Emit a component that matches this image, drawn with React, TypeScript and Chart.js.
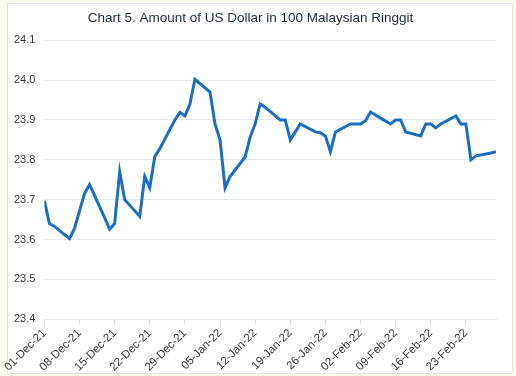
import React, { useEffect, useRef } from 'react';
import { Chart, registerables } from 'chart.js';

Chart.register(...registerables);

const START_DATE = '2021-12-01';
const END_DATE = '2022-03-01';

const tradingDates = [
  '2021-12-01', '2021-12-02', '2021-12-03', '2021-12-06', '2021-12-07', '2021-12-08', '2021-12-09', '2021-12-10',
  '2021-12-13', '2021-12-14', '2021-12-15', '2021-12-16', '2021-12-17', '2021-12-20', '2021-12-21', '2021-12-22',
  '2021-12-23', '2021-12-24', '2021-12-27', '2021-12-28', '2021-12-29', '2021-12-30', '2021-12-31',
  '2022-01-03', '2022-01-04', '2022-01-05', '2022-01-06', '2022-01-07', '2022-01-10', '2022-01-11', '2022-01-12',
  '2022-01-13', '2022-01-14', '2022-01-17', '2022-01-18', '2022-01-19', '2022-01-20', '2022-01-21', '2022-01-24',
  '2022-01-25', '2022-01-26', '2022-01-27', '2022-01-28', '2022-01-31',
  '2022-02-01', '2022-02-02', '2022-02-03', '2022-02-04', '2022-02-07', '2022-02-08', '2022-02-09', '2022-02-10',
  '2022-02-11', '2022-02-14', '2022-02-15', '2022-02-16', '2022-02-17', '2022-02-18', '2022-02-21', '2022-02-22',
  '2022-02-23', '2022-02-24', '2022-02-25', '2022-02-28', '2022-03-01',
];

const usdPer100Myr = [
  23.697, 23.640, 23.633, 23.602, 23.628, 23.672, 23.715, 23.738,
  23.655, 23.626, 23.640, 23.770, 23.700, 23.658, 23.758, 23.730,
  23.808, 23.828, 23.900, 23.919, 23.910, 23.940, 24.002,
  23.970, 23.890, 23.850, 23.730, 23.758, 23.807, 23.857, 23.890,
  23.940, 23.932, 23.900, 23.900, 23.850, 23.870, 23.890, 23.870,
  23.868, 23.860, 23.820, 23.870, 23.890,
  23.890, 23.890, 23.898, 23.920, 23.897, 23.890, 23.900, 23.900,
  23.870, 23.860, 23.890, 23.890, 23.880, 23.890, 23.910, 23.890,
  23.890, 23.800, 23.810, 23.817, 23.820,
];

const Y_MIN = 23.4;
const Y_MAX = 24.1;
const Y_STEP = 0.1;
const X_TICK_EVERY_DAYS = 7;

const TITLE = 'Chart 5. Amount of US Dollar in 100 Malaysian Ringgit';
const MONTHS = ['Jan', 'Feb', 'Mar', 'Apr', 'May', 'Jun', 'Jul', 'Aug', 'Sep', 'Oct', 'Nov', 'Dec'];

const DAY_MS = 86400000;
function toMs(iso: string): number {
  const [y, m, d] = iso.split('-').map(Number);
  return Date.UTC(y, m - 1, d);
}
const startMs = toMs(START_DATE);
function dayIndex(iso: string): number {
  return Math.round((toMs(iso) - startMs) / DAY_MS);
}
function formatDay(idx: number): string {
  const d = new Date(startMs + idx * DAY_MS);
  const dd = String(d.getUTCDate()).padStart(2, '0');
  return `${dd}-${MONTHS[d.getUTCMonth()]}-${String(d.getUTCFullYear()).slice(2)}`;
}

const FONT = '"Liberation Sans", Arial, sans-serif';

export default function App() {
  const ref = useRef<HTMLCanvasElement | null>(null);

  useEffect(() => {
    document.body.style.margin = '0';
    if (!ref.current) return;
    const points = tradingDates.map((d, i) => ({ x: dayIndex(d), y: usdPer100Myr[i] }));
    const chart = new Chart(ref.current, {
      type: 'line',
      data: {
        datasets: [
          {
            label: 'USD per 100 MYR',
            data: points,
            borderColor: '#1a6fbf',
            borderWidth: 3,
            pointRadius: 0,
            tension: 0,
            fill: false,
          },
        ],
      },
      options: {
        animation: false,
        responsive: false,
        maintainAspectRatio: false,
        layout: { padding: { left: 5, right: 20, top: 10, bottom: 0 } },
        plugins: {
          legend: { display: false },
          tooltip: { enabled: false },
          title: {
            display: true,
            text: TITLE,
            color: '#1c2a3b',
            font: { family: FONT, size: 13.5, weight: 'normal' },
            padding: { top: 0, bottom: 14 },
          },
        },
        scales: {
          x: {
            type: 'linear',
            min: 0,
            max: dayIndex(END_DATE),
            afterBuildTicks: (scale: any) => {
              scale.ticks = scale.ticks.filter((t: any) => t.value % X_TICK_EVERY_DAYS === 0);
            },
            ticks: {
              stepSize: X_TICK_EVERY_DAYS,
              includeBounds: false,
              autoSkip: false,
              minRotation: 45,
              maxRotation: 45,
              padding: 2,
              color: '#3a3a3a',
              font: { family: FONT, size: 11.5 },
              callback: (v: any) => formatDay(Number(v)),
            },
            grid: {
              drawOnChartArea: false,
              drawTicks: true,
              tickLength: 5,
              color: '#d9dee5',
            },
            border: { display: true, color: '#dfe3ea' },
          },
          y: {
            min: Y_MIN,
            max: Y_MAX,
            ticks: {
              stepSize: Y_STEP,
              padding: 9,
              color: '#3a3a3a',
              font: { family: FONT, size: 11 },
              callback: (v: any) => Number(v).toFixed(1),
            },
            grid: { color: '#e6e9ef', drawTicks: false },
            border: { display: false },
          },
        },
      },
    });
    return () => chart.destroy();
  }, []);

  return (
    <div style={{ position: 'relative', width: 516, height: 376, background: '#fbfcec', overflow: 'hidden' }}>
      <div
        style={{
          position: 'absolute',
          left: 7,
          top: 3,
          width: 504,
          height: 369,
          background: '#ffffff',
          border: '1px solid #e2e5e2',
        }}
      />
      <canvas ref={ref} width={516} height={376} style={{ position: 'absolute', left: 0, top: 0 }} />
    </div>
  );
}
